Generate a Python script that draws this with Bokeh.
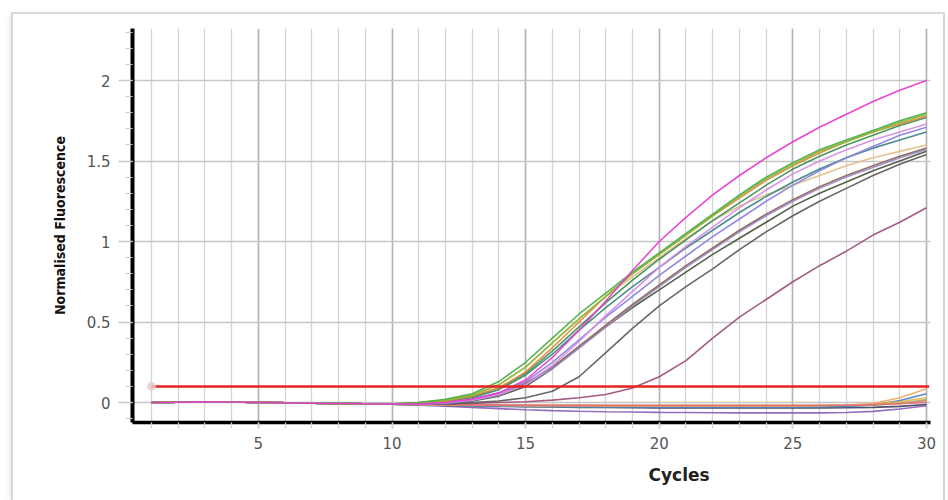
import math
from bokeh.plotting import figure
from bokeh.models import SingleIntervalTicker, Range1d, Title
from bokeh.embed import file_html
from bokeh.resources import INLINE

# ---------------- data ----------------
cycles = list(range(1, 31))
threshold = 0.1

# shared pre-amplification baseline, cycles 1-10
early = [0.000, 0.002, 0.004, 0.003, 0.001, -0.002, -0.004, -0.006, -0.008, -0.010]

# amplifying samples, cycles 11-30
pink = early + [-0.010, 0.000, 0.020, 0.060, 0.140, 0.280, 0.450, 0.630, 0.820, 1.000,
                1.150, 1.290, 1.410, 1.520, 1.620, 1.710, 1.790, 1.870, 1.940, 2.000]
green = early + [0.000, 0.020, 0.055, 0.130, 0.250, 0.400, 0.550, 0.680, 0.810, 0.930,
                 1.050, 1.170, 1.290, 1.400, 1.490, 1.570, 1.630, 1.690, 1.750, 1.800]
olive = early + [0.000, 0.015, 0.045, 0.110, 0.220, 0.370, 0.520, 0.660, 0.800, 0.920,
                 1.040, 1.160, 1.280, 1.390, 1.480, 1.560, 1.620, 1.680, 1.740, 1.790]
orange = early + [0.000, 0.010, 0.040, 0.090, 0.190, 0.340, 0.500, 0.660, 0.800, 0.920,
                  1.040, 1.160, 1.270, 1.380, 1.470, 1.550, 1.620, 1.680, 1.730, 1.780]
dkgreen = early + [-0.005, 0.010, 0.035, 0.090, 0.180, 0.320, 0.470, 0.620, 0.760, 0.890,
                   1.010, 1.130, 1.240, 1.350, 1.450, 1.530, 1.600, 1.660, 1.720, 1.770]
violet = early + [-0.010, 0.000, 0.015, 0.050, 0.110, 0.230, 0.380, 0.540, 0.690, 0.840,
                  0.970, 1.090, 1.210, 1.320, 1.420, 1.500, 1.570, 1.630, 1.680, 1.730]
blueviolet = early + [-0.010, 0.000, 0.020, 0.060, 0.130, 0.250, 0.390, 0.530, 0.660, 0.790,
                      0.910, 1.030, 1.140, 1.250, 1.350, 1.440, 1.520, 1.590, 1.660, 1.710]
teal = early + [-0.005, 0.010, 0.030, 0.080, 0.170, 0.300, 0.450, 0.590, 0.720, 0.840,
                0.960, 1.070, 1.180, 1.280, 1.370, 1.450, 1.520, 1.580, 1.630, 1.680]
tan = early + [0.000, 0.015, 0.050, 0.110, 0.220, 0.370, 0.520, 0.660, 0.780, 0.900,
               1.020, 1.130, 1.220, 1.290, 1.350, 1.410, 1.470, 1.520, 1.560, 1.600]
brown = early + [-0.010, 0.000, 0.020, 0.050, 0.120, 0.220, 0.350, 0.480, 0.610, 0.730,
                 0.850, 0.960, 1.070, 1.170, 1.260, 1.340, 1.410, 1.470, 1.530, 1.580]
lightpurple = early + [-0.010, -0.005, 0.015, 0.045, 0.110, 0.210, 0.340, 0.470, 0.600, 0.720,
                       0.840, 0.950, 1.060, 1.160, 1.250, 1.330, 1.400, 1.460, 1.520, 1.570]
darkolive = early + [-0.010, -0.005, 0.010, 0.040, 0.100, 0.210, 0.340, 0.470, 0.590, 0.700,
                     0.810, 0.920, 1.020, 1.120, 1.220, 1.300, 1.370, 1.440, 1.500, 1.560]
darkgray = early + [-0.010, -0.010, 0.000, 0.010, 0.030, 0.070, 0.160, 0.310, 0.460, 0.600,
                    0.720, 0.830, 0.950, 1.060, 1.160, 1.250, 1.330, 1.410, 1.480, 1.540]
mauve = early + [-0.010, -0.010, -0.005, 0.000, 0.005, 0.015, 0.030, 0.050, 0.090, 0.160,
                 0.260, 0.400, 0.530, 0.640, 0.750, 0.850, 0.940, 1.040, 1.120, 1.210]

# non-amplifying samples, cycles 11-30
flat_orange = early + [-0.012, -0.015, -0.017, -0.018, -0.019, -0.020, -0.020, -0.021, -0.021, -0.021,
                       -0.021, -0.021, -0.021, -0.021, -0.021, -0.020, -0.017, -0.006, 0.030, 0.085]
flat_blue = early + [-0.013, -0.017, -0.020, -0.022, -0.024, -0.026, -0.027, -0.028, -0.028, -0.029,
                     -0.029, -0.029, -0.029, -0.029, -0.029, -0.028, -0.025, -0.015, 0.012, 0.055]
flat_gold = early + [-0.012, -0.014, -0.016, -0.017, -0.018, -0.019, -0.019, -0.019, -0.019, -0.019,
                     -0.019, -0.019, -0.019, -0.019, -0.019, -0.018, -0.016, -0.010, 0.005, 0.030]
flat_green = early + [-0.013, -0.016, -0.019, -0.021, -0.023, -0.024, -0.025, -0.026, -0.026, -0.026,
                      -0.026, -0.026, -0.026, -0.026, -0.026, -0.025, -0.023, -0.017, -0.005, 0.018]
flat_rose = early + [-0.012, -0.014, -0.015, -0.016, -0.017, -0.018, -0.018, -0.018, -0.018, -0.018,
                     -0.018, -0.018, -0.018, -0.018, -0.018, -0.018, -0.017, -0.014, -0.008, 0.000]
flat_salmon = early + [-0.011, -0.013, -0.014, -0.015, -0.016, -0.016, -0.016, -0.017, -0.017, -0.017,
                       -0.017, -0.017, -0.017, -0.017, -0.017, -0.017, -0.016, -0.013, -0.006, 0.012]
flat_dark = early + [-0.014, -0.018, -0.021, -0.024, -0.026, -0.028, -0.030, -0.031, -0.032, -0.033,
                     -0.033, -0.033, -0.033, -0.033, -0.033, -0.033, -0.032, -0.030, -0.024, -0.012]
flat_purple = early + [-0.016, -0.022, -0.030, -0.038, -0.045, -0.050, -0.054, -0.057, -0.059, -0.061,
                       -0.062, -0.063, -0.064, -0.064, -0.064, -0.064, -0.062, -0.055, -0.040, -0.020]

x_title = "Cycles"
y_title = "Normalised Fluorescence"

flat_series = [
    (flat_purple, "#8a5cb8"), (flat_dark, "#3c3c5a"), (flat_green, "#7cc48a"),
    (flat_blue, "#4f81c7"), (flat_gold, "#e6b43c"), (flat_salmon, "#e88a70"),
    (flat_orange, "#f4a460"), (flat_rose, "#d9707a"),
]
amp_series = [
    (mauve, "#a0527c"), (darkgray, "#5f5f5f"), (darkolive, "#4d5a3e"),
    (lightpurple, "#9f8fd6"), (brown, "#8c6a5c"), (tan, "#e2c08a"),
    (teal, "#3f8a86"), (blueviolet, "#8c84e0"), (violet, "#d58ee6"),
    (dkgreen, "#3f8f55"), (orange, "#e08a3c"), (olive, "#8fb83c"),
    (green, "#4db04a"), (pink, "#e63fcf"),
]

# ---------------- figure ----------------
p = figure(width=930, height=486, output_backend="svg", toolbar_location=None,
           x_range=Range1d(0.289, 30.15), y_range=Range1d(-0.124, 2.323),
           min_border_left=119, min_border_right=13, min_border_top=14, min_border_bottom=78)
p.margin = (14, 5, 0, 13)
p.styles = {"outline": "2px solid #d8d8d8",
            "box-shadow": "-3px 1px 5px rgba(0,0,0,0.10)"}
p.outline_line_color = None
p.background_fill_color = "white"
p.border_fill_color = "white"

xt = SingleIntervalTicker(interval=5, num_minor_ticks=5)
yt = SingleIntervalTicker(interval=0.5, num_minor_ticks=5)
p.xaxis.ticker = xt
p.yaxis.ticker = yt
p.xgrid.ticker = xt
p.ygrid.ticker = yt

p.xgrid.grid_line_color = "#b4b4b4"
p.xgrid.grid_line_width = 1.6
p.xgrid.minor_grid_line_color = "#d4d4d4"
p.xgrid.minor_grid_line_width = 1.3
p.ygrid.grid_line_color = "#c6c6c6"
p.ygrid.grid_line_width = 1.6

p.xaxis.axis_line_color = "black"
p.xaxis.axis_line_width = 3.5
p.xaxis.major_tick_in = 0
p.xaxis.minor_tick_in = 0
p.xaxis.major_tick_out = 6
p.xaxis.minor_tick_out = 6
p.xaxis.major_tick_line_color = "#b4b4b4"
p.xaxis.major_tick_line_width = 1.6
p.xaxis.minor_tick_line_color = "#d4d4d4"
p.xaxis.minor_tick_line_width = 1.3
p.xaxis.major_label_text_font = "DejaVu Sans"
p.xaxis.major_label_text_font_size = "15px"
p.xaxis.major_label_text_color = "#555555"
p.xaxis.major_label_standoff = 8

p.yaxis.axis_line_color = "black"
p.yaxis.axis_line_width = 4
p.yaxis.major_tick_in = 0
p.yaxis.minor_tick_in = 0
p.yaxis.major_tick_out = 14
p.yaxis.minor_tick_out = 7
p.yaxis.major_tick_line_color = "#c6c6c6"
p.yaxis.major_tick_line_width = 1.6
p.yaxis.minor_tick_line_color = "#cccccc"
p.yaxis.minor_tick_line_width = 1.2
p.yaxis.major_label_text_font = "DejaVu Sans"
p.yaxis.major_label_text_font_size = "15px"
p.yaxis.major_label_text_color = "#555555"
p.yaxis.major_label_standoff = 8
p.yaxis.axis_label = y_title
p.yaxis.axis_label_text_font = "'Liberation Sans Narrow', 'DejaVu Sans Condensed', 'Liberation Sans'"
p.yaxis.axis_label_text_font_style = "bold"
p.yaxis.axis_label_text_font_size = "14px"
p.yaxis.axis_label_text_color = "#111111"
p.yaxis.axis_label_standoff = 16

p.add_layout(Title(text=x_title, align="left", offset=516, text_font="DejaVu Sans",
                   text_font_style="bold", text_font_size="17px", text_color="#222222",
                   standoff=22), "below")

for ys, col in flat_series:
    p.line(cycles, ys, line_color=col, line_width=1.6, line_alpha=0.9)
for ys, col in amp_series:
    p.line(cycles, ys, line_color=col, line_width=1.6, line_alpha=0.95)

p.line([cycles[0], cycles[-1] + 0.1], [threshold, threshold], line_color="#e8201e", line_width=2.6)
p.scatter([cycles[0]], [threshold], size=9, fill_color="#e6c9c9", fill_alpha=0.8, line_color=None)

open("out.html", "w").write(file_html(p, INLINE))
